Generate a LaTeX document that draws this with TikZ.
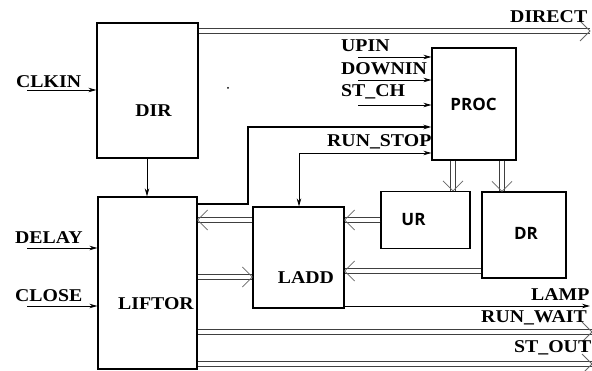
\documentclass[tikz,border=0pt]{standalone}
\usepackage{fontspec}
\setmainfont{Liberation Serif}
\newfontfamily\sigfont[FakeStretch=1.1]{Liberation Serif}
\newfontfamily\boxfont{Open Sans}
\usetikzlibrary{arrows.meta,decorations.markings}

\begin{document}
\begin{tikzpicture}[x=1pt,y=-1pt,
    blk/.style={draw,line width=1.2pt,inner sep=0pt},
    txt/.style={font=\sigfont\bfseries\fontsize{18}{18}\selectfont,inner sep=0pt,anchor=base west},
    blktxt/.style={font=\sigfont\bfseries\fontsize{18}{18}\selectfont,inner sep=0pt},
    sanstxt/.style={font=\boxfont\bfseries\fontsize{17}{17}\selectfont,inner sep=0pt},
    sig/.style={line width=0.8pt,-{Stealth[length=8pt,width=4.5pt]}},
    thick sig/.style={line width=2pt,-{Stealth[length=8pt,width=4.5pt]}},
    bus/.style={double,double distance=4pt,line width=1pt,draw=black!75,
      postaction={decorate,decoration={markings,mark=at position 1 with
        {\draw[black!60,line width=0.8pt] (-10pt,-10pt) -- (0,0) -- (-10pt,10pt);}}}}]
  \useasboundingbox (0,0) rectangle (592,371);

  % blocks
  \node[blk,minimum width=101pt,minimum height=135pt] (dir) at (147.5,90.5) {};
  \node[blk,minimum width=99pt,minimum height=172pt] (liftor) at (147.5,283) {};
  \node[blk,minimum width=91pt,minimum height=101pt] (ladd) at (298.5,257.5) {};
  \node[blk,minimum width=84pt,minimum height=112pt] (proc) at (474,104) {};
  \node[blk,minimum width=89pt,minimum height=57pt] (ur) at (425.5,220) {};
  \node[blk,minimum width=84pt,minimum height=86pt] (dr) at (524,235) {};

  \node[blktxt] (dirlbl) at (153.5,111) {DIR};
  \node[blktxt] (liftorlbl) at (156,303.5) {LIFTOR};
  \node[blktxt] (laddlbl) at (306,277.5) {LADD};
  \node[sanstxt] (proclbl) at (473.5,104) {PROC};
  \node[sanstxt] (urlbl) at (413.5,219.5) {UR};
  \node[sanstxt] (drlbl) at (526,233) {DR};

  \fill (228,88) circle (1pt);

  % inputs on the left
  \coordinate (clkin) at (27,90);
  \coordinate (delay) at (27,248);
  \coordinate (close) at (27,306);
  \draw[sig] (clkin) -- (clkin -| dir.west);
  \draw[sig] (delay) -- (delay -| liftor.west);
  \draw[sig] (close) -- (close -| liftor.west);
  \node[txt] (clkinlbl) at (16,88) {CLKIN};
  \node[txt] (delaylbl) at (15,244) {DELAY};
  \node[txt] (closelbl) at (15,302) {CLOSE};

  \draw[sig] (dir.south -| 147,0) -- (liftor.north -| 147,0);

  % inputs of PROC
  \coordinate (upin) at (358,57);
  \coordinate (downin) at (358,80);
  \coordinate (stch) at (358,105);
  \draw[sig] (upin) -- (upin -| proc.west);
  \draw[sig] (downin) -- (downin -| proc.west);
  \draw[sig] (stch) -- (stch -| proc.west);
  \node[txt] (upinlbl) at (341,52) {UPIN};
  \node[txt] (downinlbl) at (341,75) {DOWNIN};
  \node[txt] (stchlbl) at (341,97) {ST\_CH};

  \draw[thick sig] (liftor.east |- 0,204) -- (248,204) -- (248,127) -- (proc.west |- 0,127);
  \coordinate (runstop) at (299,153);
  \draw[line width=0.8pt,{Stealth[length=8pt,width=4.5pt]}-{Stealth[length=8pt,width=4.5pt]}]
    (ladd.north -| runstop) |- (runstop -| proc.west);
  \node[txt] (runstoplbl) at (327,147) {RUN\_STOP};

  % buses
  \coordinate (direct) at (590,31);
  \draw[bus] (dir.east |- direct) -- (direct);
  \node[txt] (directlbl) at (510,23) {DIRECT};
  \draw[bus] (proc.south -| 453,0) -- (ur.north -| 453,0);
  \draw[bus] (proc.south -| 502,0) -- (dr.north -| 502,0);
  \draw[bus] (ladd.west |- 0,220) -- (liftor.east |- 0,220);
  \draw[bus] (liftor.east |- 0,277) -- (ladd.west |- 0,277);
  \draw[bus] (ur.west) -- (ladd.east |- ur.west);
  \draw[bus] (dr.west |- 0,271) -- (ladd.east |- 0,271);

  % outputs
  \coordinate (lamp) at (590,306);
  \coordinate (runwait) at (592,332);
  \coordinate (stout) at (592,364);
  \draw[sig] (ladd.east |- lamp) -- (lamp);
  \draw[bus] (liftor.east |- runwait) -- (runwait);
  \draw[bus] (liftor.east |- stout) -- (stout);
  \node[txt] (lamplbl) at (531,301) {LAMP};
  \node[txt] (runwaitlbl) at (481,323) {RUN\_WAIT};
  \node[txt] (stoutlbl) at (514,353) {ST\_OUT};
\end{tikzpicture}
\end{document}
